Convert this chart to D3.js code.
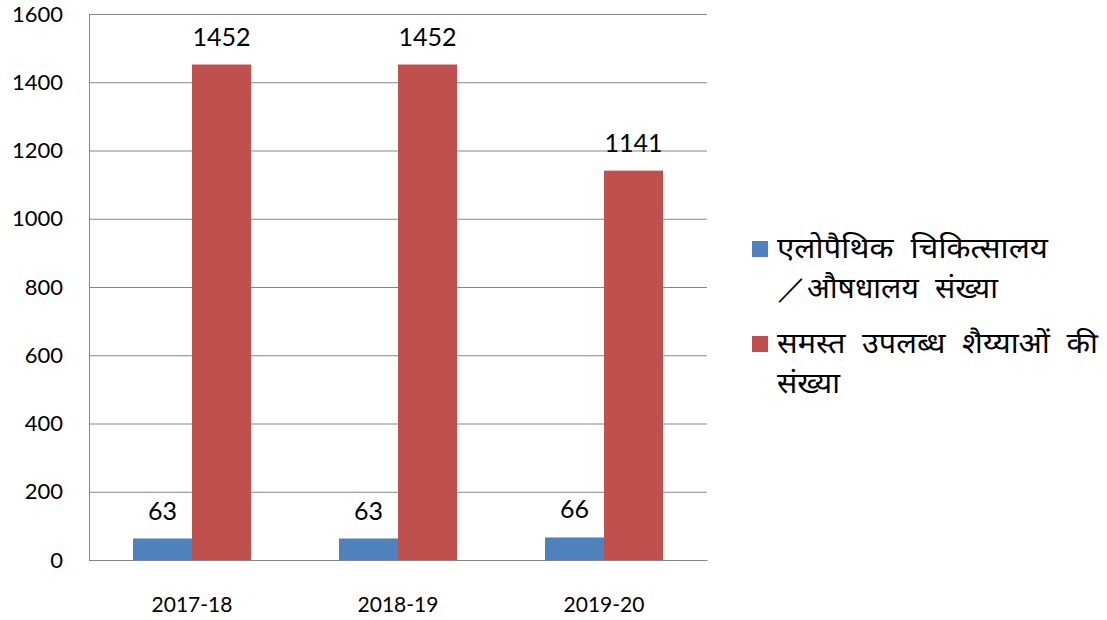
<!DOCTYPE html>
<html><head><meta charset="utf-8">
<script src="https://cdn.jsdelivr.net/npm/d3@7"></script>
<style>body{margin:0;background:#fff}</style>
</head><body>
<svg id="c" width="1107" height="620"></svg>
<script>
const categories = ["2017-18", "2018-19", "2019-20"];
const seriesNames = ["एलोपैथिक चिकित्सालय /औषधालय संख्या", "समस्त उपलब्ध शैय्याओं की संख्या"];
const clinics = [63, 63, 66];
const beds = [1452, 1452, 1141];
const yTicks = [0, 200, 400, 600, 800, 1000, 1200, 1400, 1600];
const colors = ["#4F81BD", "#C0504D"];
const legendLines = [["एलोपैथिक चिकित्सालय", "／औषधालय संख्या"], ["समस्त उपलब्ध शैय्याओं की", "संख्या"]];
const legendWidths = [[271, 221], [321, 63]];

const svg = d3.select("#c");
const L = 89, R = 707, T = 14, B = 560;
const font = "Lato, 'Open Sans', sans-serif";
const hfont = "'Noto Sans Devanagari', 'Mangal', 'Noto Sans', sans-serif";

const x = d3.scaleBand().domain(categories).range([L, R]).paddingInner(0).paddingOuter(0);
const y = d3.scaleLinear().domain([0, 1600]).range([B, T]);
const bw = 59;

const yAxis = d3.axisLeft(y).tickValues(yTicks).tickFormat(d3.format("d")).tickSize(-(R - L)).tickPadding(26);
const ga = svg.append("g").attr("transform", `translate(${L},0)`).call(yAxis);
ga.select(".domain").remove();
ga.selectAll(".tick line").attr("stroke", "#868686").attr("stroke-width", 1);
ga.selectAll(".tick text").attr("font-family", font).attr("font-size", 22).attr("fill", "#000");
svg.append("line").attr("x1", L + 0.5).attr("x2", L + 0.5).attr("y1", T).attr("y2", B).attr("stroke", "#868686");

const xAxis = d3.axisBottom(x).tickSize(0).tickPadding(37);
const gx = svg.append("g").attr("transform", `translate(0,${B})`).call(xAxis);
gx.select(".domain").attr("stroke", "#868686");
gx.selectAll(".tick text").attr("font-family", font).attr("font-size", 21).attr("fill", "#000");

const series = [clinics, beds];
series.forEach((vals, si) => {
  const g = svg.append("g");
  g.selectAll("rect").data(categories).join("rect")
    .attr("x", c => x(c) + x.bandwidth() / 2 - bw + si * bw)
    .attr("width", bw)
    .attr("y", (c, i) => y(vals[i]))
    .attr("height", (c, i) => B - y(vals[i]))
    .attr("fill", colors[si]);
  g.selectAll("text").data(categories).join("text")
    .attr("x", c => x(c) + x.bandwidth() / 2 - bw / 2 + si * bw)
    .attr("y", (c, i) => y(vals[i]) - 19)
    .attr("text-anchor", "middle")
    .attr("font-family", font).attr("font-size", 25).attr("fill", "#000")
    .text((c, i) => vals[i]);
});

// legend
const legY = [241, 336];
legendLines.forEach((lines, i) => {
  const g = svg.append("g");
  g.append("rect").attr("x", 752).attr("y", legY[i]).attr("width", 16).attr("height", 16).attr("fill", colors[i]);
  lines.forEach((ln, j) => {
    g.append("text").attr("x", 777).attr("y", legY[i] + 17 + j * 40)
      .attr("font-family", hfont).attr("font-size", 28).attr("fill", "#000")
      .style("word-spacing", "8px")
      .attr("textLength", legendWidths[i][j]).attr("lengthAdjust", "spacingAndGlyphs")
      .text(ln);
  });
});
</script>
</body></html>
